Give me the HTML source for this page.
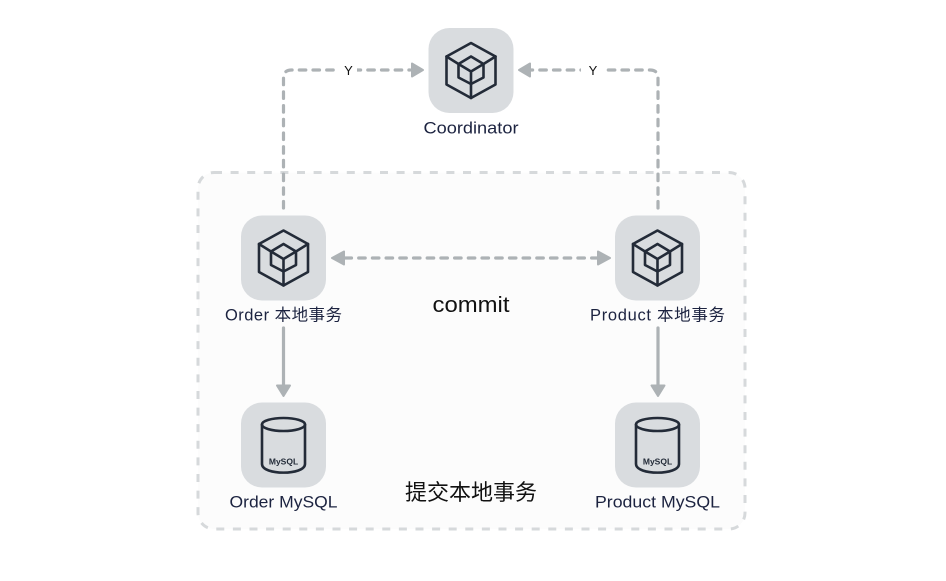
<!DOCTYPE html>
<html><head><meta charset="utf-8"><style>
html,body{margin:0;padding:0;background:#fff}
svg{display:block}
text{font-family:"Liberation Sans","Noto Sans CJK SC",sans-serif}
.l{font-size:16.500px;fill:#1c2340;text-anchor:middle}
.t{font-size:22px;fill:#111;text-anchor:middle}
.d{fill:none;stroke:#adb2b5;stroke-width:3.200;stroke-dasharray:6.500 7.200;stroke-linecap:round}
.h{fill:#adb2b5;stroke:#adb2b5;stroke-width:2;stroke-linejoin:round}
.tile{fill:#d9dcdf}
.i{fill:none;stroke:#232b38;stroke-width:2.600;stroke-linejoin:round;stroke-linecap:round}
</style></head><body>
<svg width="946" height="581" viewBox="0 0 946 581" xmlns="http://www.w3.org/2000/svg">
<rect x="198" y="172.500" width="547" height="356.500" rx="16" fill="#fcfcfc" stroke="#d6d9db" stroke-width="3" stroke-dasharray="8 8.600"/>

<path class="d" d="M283.500 208V78Q283.500 70 291.500 70H410"/>
<path class="d" d="M658 208V78Q658 70 650 70H531"/>
<path class="d" d="M345 258H597"/>
<path d="M283.500 328V386M658 328V386" fill="none" stroke="#adb2b5" stroke-width="3.200" stroke-linecap="round"/>
<path class="h" d="M423 70L412 63.500V76.500Z"/>
<path class="h" d="M519 70L530 63.500V76.500Z"/>
<path class="h" d="M332 258L344 251.500V264.500Z"/>
<path class="h" d="M610 258L598 251.500V264.500Z"/>
<path class="h" d="M283.500 396L277 385.500H290Z"/>
<path class="h" d="M658 396L651.500 385.500H664.500Z"/>

<rect x="336" y="60" width="21" height="20" fill="#fff"/>
<rect x="581" y="60" width="23" height="20" fill="#fff"/>
<text x="348.500" y="75" font-size="13" fill="#111" text-anchor="middle">Y</text>
<text x="593" y="75" font-size="13" fill="#111" text-anchor="middle">Y</text>

<defs>
<g id="c">
<rect x="-42.500" y="-42.500" width="85" height="85" rx="21" class="tile"/>
<path class="i" d="M0-27.500L24.500-14V14L0 27.500L-24.500 14V-14Z"/>
<path class="i" d="M0-14L12.500-6.500V7L0 13.500L-12.500 7V-6.500Z"/>
<path class="i" d="M-24.500-14L-12.500-6.500L0 1L12.500-6.500L24.500-14M0 1V27.500"/>
</g>
<g id="m">
<rect x="-42.500" y="-42.500" width="85" height="85" rx="21" class="tile"/>
<path class="i" d="M-21.500-20.500V19C-21.500 30.500 21.500 30.500 21.500 19V-20.500"/>
<ellipse class="i" cx="0" cy="-20.500" rx="21.500" ry="6.500"/>
<text x="0" y="19.500" font-size="8.500" font-weight="700" fill="#232b38" text-anchor="middle">MySQL</text>
</g>
</defs>

<use href="#c" x="471" y="70.500"/>
<use href="#c" x="283.500" y="258"/>
<use href="#c" x="657.500" y="258"/>
<use href="#m" x="283.500" y="445"/>
<use href="#m" x="657.500" y="445"/>

<text class="l" x="471" y="133.500" textLength="95" lengthAdjust="spacingAndGlyphs">Coordinator</text>
<text class="l" x="283.500" y="320.500" textLength="117" lengthAdjust="spacing">Order 本地事务</text>
<text class="l" x="657.500" y="320.500" textLength="135" lengthAdjust="spacing">Product 本地事务</text>
<text class="l" x="283.500" y="507.500" textLength="108" lengthAdjust="spacingAndGlyphs">Order MySQL</text>
<text class="l" x="657.500" y="507.500" textLength="125" lengthAdjust="spacingAndGlyphs">Product MySQL</text>
<text class="t" x="471" y="312" textLength="77" lengthAdjust="spacingAndGlyphs">commit</text>
<text class="t" x="471" y="500">提交本地事务</text>
</svg>
</body></html>
